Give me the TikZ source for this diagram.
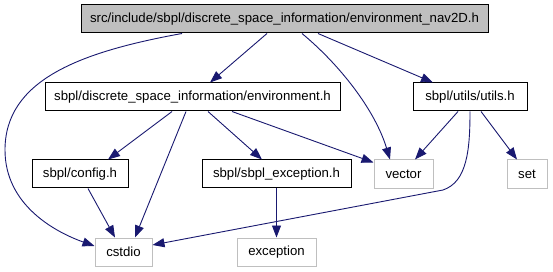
\documentclass[tikz,border=0pt]{standalone}
\usepackage{fontspec}
\setmainfont{Liberation Sans}
\usetikzlibrary{arrows.meta}
\definecolor{edgeblue}{HTML}{191970}
\definecolor{sysgray}{HTML}{BFBFBF}
\begin{document}
\begin{tikzpicture}[x=1pt,y=-1pt,
  box/.style={draw=black,line width=1pt,minimum height=28pt,inner sep=0pt,
    font=\fontsize{13.2}{15}\selectfont,text=black},
  mainbox/.style={box,fill=sysgray},
  sysbox/.style={box,draw=sysgray},
  dep/.style={draw=edgeblue,line width=0.9pt,
    -{Triangle[length=12pt,width=9pt,fill=edgeblue]}}]
\useasboundingbox (0,0) rectangle (553,272);
% header being documented
\node[mainbox,minimum width=407pt] (top) at (284.5,19) {src/include/sbpl/discrete\_space\_information/environment\_nav2D.h};
% project headers
\node[box,minimum width=295pt] (env) at (192.5,97) {sbpl/discrete\_space\_information/environment.h};
\node[box,minimum width=114pt] (utils) at (470,97) {sbpl/utils/utils.h};
\node[box,minimum width=96pt] (config) at (80,174) {sbpl/config.h};
\node[box,minimum width=149pt] (exch) at (276.5,174) {sbpl/sbpl\_exception.h};
% system headers
\node[sysbox,minimum width=59pt,minimum height=29pt] (vector) at (403.5,174.5) {vector};
\node[sysbox,minimum width=40pt,minimum height=29pt] (set) at (527,174.5) {set};
\node[sysbox,minimum width=57pt] (cstdio) at (123.5,252) {cstdio};
\node[sysbox,minimum width=79pt] (exception) at (276.5,252) {exception};
% include edges
\draw[dep] ([xshift=-102.5pt]top.south) .. controls (80,52) and (5,80) .. (5,150)
  .. controls (5,205) and (55,232) .. ([yshift=6pt]cstdio.west);
\draw[dep] ([xshift=-17.5pt]top.south) -- ([xshift=17.5pt]env.north);
\draw[dep] ([xshift=17.5pt]top.south) .. controls (340,65) and (375,110) .. ([xshift=-13.5pt]vector.north);
\draw[dep] ([xshift=33.5pt]top.south) -- ([xshift=-37pt]utils.north);
\draw[dep] ([xshift=-20.5pt]env.south) -- ([xshift=28pt]config.north);
\draw[dep] ([xshift=-6.5pt]env.south) -- ([xshift=11.5pt]cstdio.north);
\draw[dep] ([xshift=15.5pt]env.south) -- ([xshift=-14.5pt]exch.north);
\draw[dep] ([xshift=39.5pt]env.south) -- ([yshift=-3pt]vector.north west);
\draw[dep] ([xshift=-12pt]utils.south) -- ([xshift=11.5pt]vector.north);
\draw[dep] (utils.south) .. controls (470,150) and (467,182) .. (443,190) -- ([yshift=7pt]cstdio.east);
\draw[dep] ([xshift=11pt]utils.south) -- ([xshift=-10pt]set.north);
\draw[dep] ([xshift=8pt]config.south) -- ([xshift=-8.5pt]cstdio.north);
\draw[dep] (exch.south) -- (exception.north);
\end{tikzpicture}
\end{document}
